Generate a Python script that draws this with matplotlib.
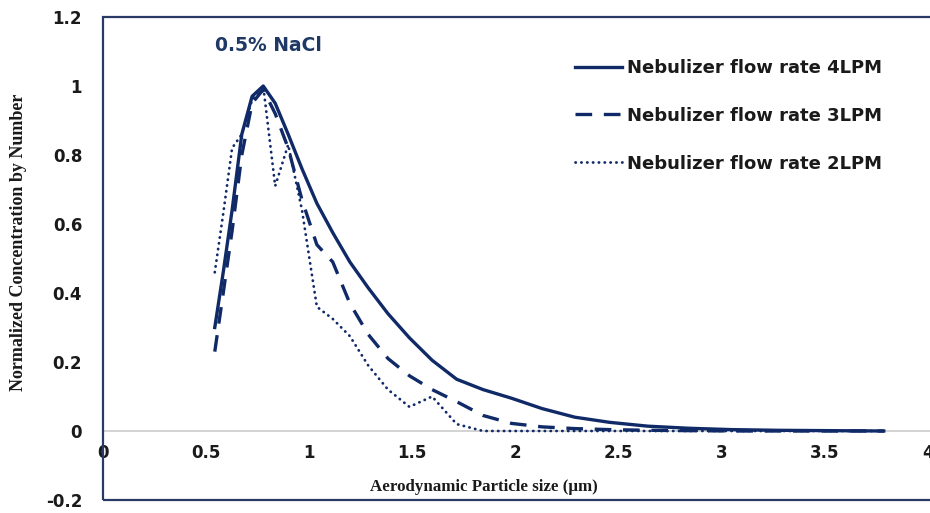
import matplotlib
matplotlib.use("Agg")
import matplotlib.pyplot as plt
from matplotlib.patches import Rectangle

# ---- data ----
size_um = [0.542, 0.583, 0.626, 0.673, 0.723, 0.777, 0.835, 0.898, 0.965, 1.037,
           1.114, 1.197, 1.286, 1.382, 1.486, 1.596, 1.715, 1.843, 1.981, 2.129,
           2.288, 2.458, 2.642, 2.839, 3.051, 3.278, 3.523, 3.786]
conc_4lpm = [0.30, 0.46, 0.64, 0.86, 0.97, 1.00, 0.95, 0.86, 0.76, 0.66,
             0.575, 0.49, 0.415, 0.34, 0.27, 0.205, 0.15, 0.12, 0.095, 0.065,
             0.04, 0.025, 0.014, 0.008, 0.004, 0.002, 0.001, 0.0]
conc_3lpm = [0.23, 0.40, 0.58, 0.80, 0.95, 0.99, 0.92, 0.82, 0.67, 0.54,
             0.49, 0.37, 0.28, 0.21, 0.16, 0.12, 0.085, 0.045, 0.022, 0.012,
             0.007, 0.004, 0.002, 0.001, 0.0, 0.0, 0.0, 0.0]
conc_2lpm = [0.46, 0.63, 0.82, 0.86, 0.96, 1.00, 0.71, 0.83, 0.64, 0.36,
             0.325, 0.275, 0.19, 0.12, 0.07, 0.10, 0.02, 0.0, 0.0, 0.0,
             0.0, 0.0, 0.0, 0.0, 0.0, 0.0, 0.0, 0.0]
series_labels = ["Nebulizer flow rate 4LPM", "Nebulizer flow rate 3LPM",
                 "Nebulizer flow rate 2LPM"]
x_ticks = [0, 0.5, 1, 1.5, 2, 2.5, 3, 3.5, 4]
x_tick_labels = ["0", "0.5", "1", "1.5", "2", "2.5", "3", "3.5", "4"]
y_ticks = [-0.2, 0, 0.2, 0.4, 0.6, 0.8, 1, 1.2]
y_tick_labels = ["-0.2", "0", "0.2", "0.4", "0.6", "0.8", "1", "1.2"]
annotation = "0.5% NaCl"
x_label = "Aerodynamic Particle size (\u03bcm)"
y_label = "Normalized Concentration by Number"

# ---- styling ----
LINE = "#102a68"
FRAME = "#2a3a66"

fig = plt.figure(figsize=(9.3, 5.13), dpi=100)
W, H = 930, 513
ax = fig.add_axes([103 / W, 13 / H, 829 / W, 483 / H])
ax.set_xlim(0, 4.02)
ax.set_ylim(-0.2, 1.2)

ax.plot(size_um, conc_4lpm, color=LINE, lw=2.4, solid_joinstyle="round",
        label=series_labels[0], zorder=3)
ax.plot(size_um, conc_3lpm, color=LINE, lw=2.4, dashes=(5, 3.5),
        dash_capstyle="butt", label=series_labels[1], zorder=3)
ax.plot(size_um, conc_2lpm, color=LINE, lw=2.0, linestyle=(0, (0.1, 2.0)),
        dash_capstyle="round", label=series_labels[2], zorder=3)

# axis at zero (light gray line with labels)
for s in ("top", "right", "left"):
    ax.spines[s].set_visible(False)
ax.spines["bottom"].set_position(("data", 0))
ax.spines["bottom"].set_color("#d0d0d0")
ax.spines["bottom"].set_linewidth(1.3)
ax.spines["bottom"].set_zorder(1)

ax.set_xticks(x_ticks, x_tick_labels)
ax.set_yticks(y_ticks, y_tick_labels)
ax.tick_params(axis="x", length=0, pad=9.5, colors="#1a1a1a")
ax.tick_params(axis="y", length=0, pad=15, colors="#1a1a1a")
for lab in ax.get_xticklabels() + ax.get_yticklabels():
    lab.set_fontfamily("DejaVu Sans")
    lab.set_fontweight("bold")
    lab.set_fontsize(12)

# frame
ax.add_patch(Rectangle((0, 0), 1, 1, transform=ax.transAxes, fill=False,
                       edgecolor=FRAME, lw=1.6, clip_on=False, zorder=5))

# axis labels
ax.set_xlabel(x_label, family="Liberation Serif", weight="bold", fontsize=12.2,
              color="#1a1a1a", va="center")
ax.xaxis.set_label_coords((484 - 103) / 829, (500 - 487) / 483)
ax.set_ylabel(y_label, family="Liberation Serif", weight="bold", fontsize=13,
              color="#1a1a1a", va="center")
ax.yaxis.set_label_coords((19 - 103) / 829, (500 - 242) / 483)

# annotation
ax.text(0.545, 1.118, annotation, family="DejaVu Sans", weight="bold",
        fontsize=13.5, color="#203864", ha="left", va="center")

leg = ax.legend(loc="upper left", bbox_to_anchor=(575 / W, 1 - 59 / H),
                bbox_transform=fig.transFigure, frameon=False, borderpad=0,
                borderaxespad=0, handlelength=2.6, handletextpad=0.28,
                labelspacing=1.65, prop=dict(family="DejaVu Sans",
                                             weight="bold", size=13))
for t in leg.get_texts():
    t.set_color("#1a1a1a")

fig.savefig("out.png", dpi=100)
